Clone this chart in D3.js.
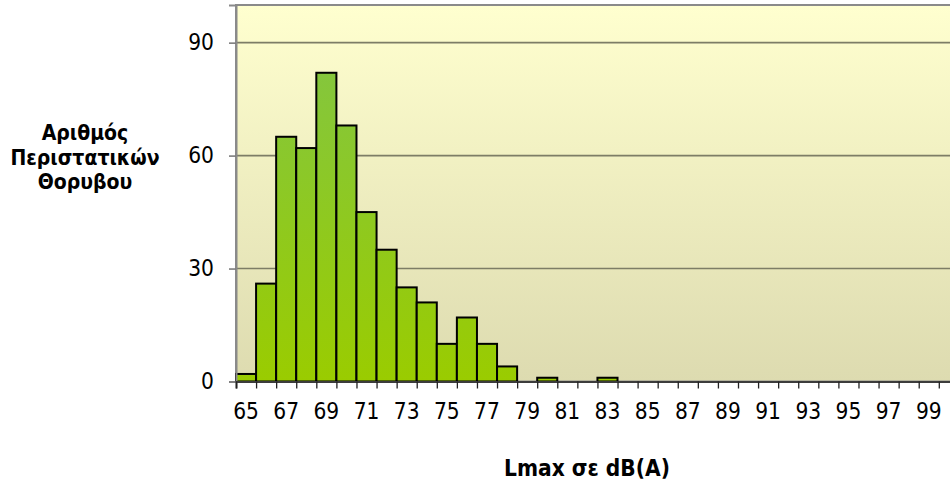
<!DOCTYPE html>
<html>
<head>
<meta charset="utf-8">
<script src="https://cdn.jsdelivr.net/npm/d3@7"></script>
<style>
  body { margin: 0; background: #fff; }
  svg { display: block; }
</style>
</head>
<body>
<div id="chart"></div>
<script>
// data: noise events per Lmax class (dB(A))
const levels = d3.range(65, 101);
const counts = [2, 26, 65, 62, 82, 68, 45, 35, 25, 21, 10, 17, 10, 4, 0, 1, 0, 0, 1,
  0, 0, 0, 0, 0, 0, 0, 0, 0, 0, 0, 0, 0, 0, 0, 0, 0];
const yTicks = [0, 30, 60, 90];
const yTitle = ["Αριθμός", "Περιστατικών", "Θορυβου"];
const xTitle = "Lmax σε dB(A)";

const data = levels.map((l, i) => ({ level: l, count: counts[i] }));

const W = 950, H = 486;
const plot = { left: 236, top: 5, bottom: 381.5, step: 20.08 };
const tickFont = "'DejaVu Sans Condensed', 'DejaVu Sans', sans-serif";

const svg = d3.select("#chart").append("svg")
  .attr("width", W)
  .attr("height", H);

// scales
const x = d3.scaleLinear()
  .domain([65, 101])
  .range([plot.left, plot.left + 36 * plot.step]);

const y = d3.scaleLinear()
  .domain([0, 100])
  .range([plot.bottom, plot.top]);

// gradients
const defs = svg.append("defs");
const bg = defs.append("linearGradient")
  .attr("id", "bg").attr("x1", 0).attr("y1", 0).attr("x2", 0).attr("y2", 1);
bg.append("stop").attr("offset", "0%").attr("stop-color", "#ffffcf");
bg.append("stop").attr("offset", "100%").attr("stop-color", "#dddbb0");

const barGrad = defs.append("linearGradient")
  .attr("id", "bar").attr("gradientUnits", "userSpaceOnUse")
  .attr("x1", 0).attr("y1", y(85)).attr("x2", 0).attr("y2", y(0));
barGrad.append("stop").attr("offset", "0%").attr("stop-color", "#84c63e");
barGrad.append("stop").attr("offset", "100%").attr("stop-color", "#9acc00");

// plot background
svg.append("rect")
  .attr("x", x(65))
  .attr("y", y(100))
  .attr("width", x(101) - x(65))
  .attr("height", y(0) - y(100))
  .attr("fill", "url(#bg)")
  .attr("stroke", "#8a8a8a")
  .attr("stroke-width", 2);

// gridlines
svg.append("g")
  .selectAll("line")
  .data(yTicks.filter(d => d > 0))
  .join("line")
  .attr("x1", x(65))
  .attr("x2", x(101))
  .attr("y1", d => y(d))
  .attr("y2", d => y(d))
  .attr("stroke", "#7d7d66")
  .attr("stroke-width", 1.6);

// bars
svg.append("g")
  .selectAll("rect")
  .data(data.filter(d => d.count > 0))
  .join("rect")
  .attr("x", d => x(d.level))
  .attr("y", d => y(d.count))
  .attr("width", d => x(d.level + 1) - x(d.level))
  .attr("height", d => y(0) - y(d.count))
  .attr("fill", "url(#bar)")
  .attr("stroke", "#000")
  .attr("stroke-width", 2);

// y axis
const yAxis = d3.axisLeft(y).tickValues(yTicks).tickSize(7).tickPadding(15);
const gy = svg.append("g")
  .attr("transform", `translate(${plot.left},0)`)
  .call(yAxis);
gy.select(".domain").attr("stroke", "#8a8a8a").attr("stroke-width", 2);
gy.selectAll(".tick line").attr("stroke", "#7d7d7d").attr("stroke-width", 1.6);
gy.selectAll(".tick text")
  .style("font-family", tickFont)
  .style("font-size", "22.5px")
  .attr("fill", "#000");

// x axis: ticks at class boundaries, labels at class centres
const xAxis = d3.axisBottom(x).tickValues(d3.range(65, 102)).tickSize(7).tickFormat("");
const gx = svg.append("g")
  .attr("transform", `translate(0,${plot.bottom})`)
  .call(xAxis);
gx.select(".domain").attr("stroke", "#3c3c3c").attr("stroke-width", 2);
gx.selectAll(".tick line").attr("stroke", "#222").attr("stroke-width", 1.3);

svg.append("g")
  .selectAll("text")
  .data(levels.filter(l => l % 2 === 1))
  .join("text")
  .attr("x", d => x(d + 0.5))
  .attr("y", 418.5)
  .attr("text-anchor", "middle")
  .style("font-family", tickFont)
  .style("font-size", "22.5px")
  .text(d => d);

// titles
svg.append("text")
  .attr("text-anchor", "middle")
  .style("font-family", tickFont)
  .style("font-weight", "bold")
  .style("font-size", "21px")
  .selectAll("tspan")
  .data(yTitle)
  .join("tspan")
  .attr("x", 85)
  .attr("y", (d, i) => 140 + i * 24.5)
  .text(d => d);

svg.append("text")
  .attr("x", 587)
  .attr("y", 476)
  .attr("text-anchor", "middle")
  .style("font-family", tickFont)
  .style("font-weight", "bold")
  .style("font-size", "22.5px")
  .text(xTitle);
</script>
</body>
</html>
